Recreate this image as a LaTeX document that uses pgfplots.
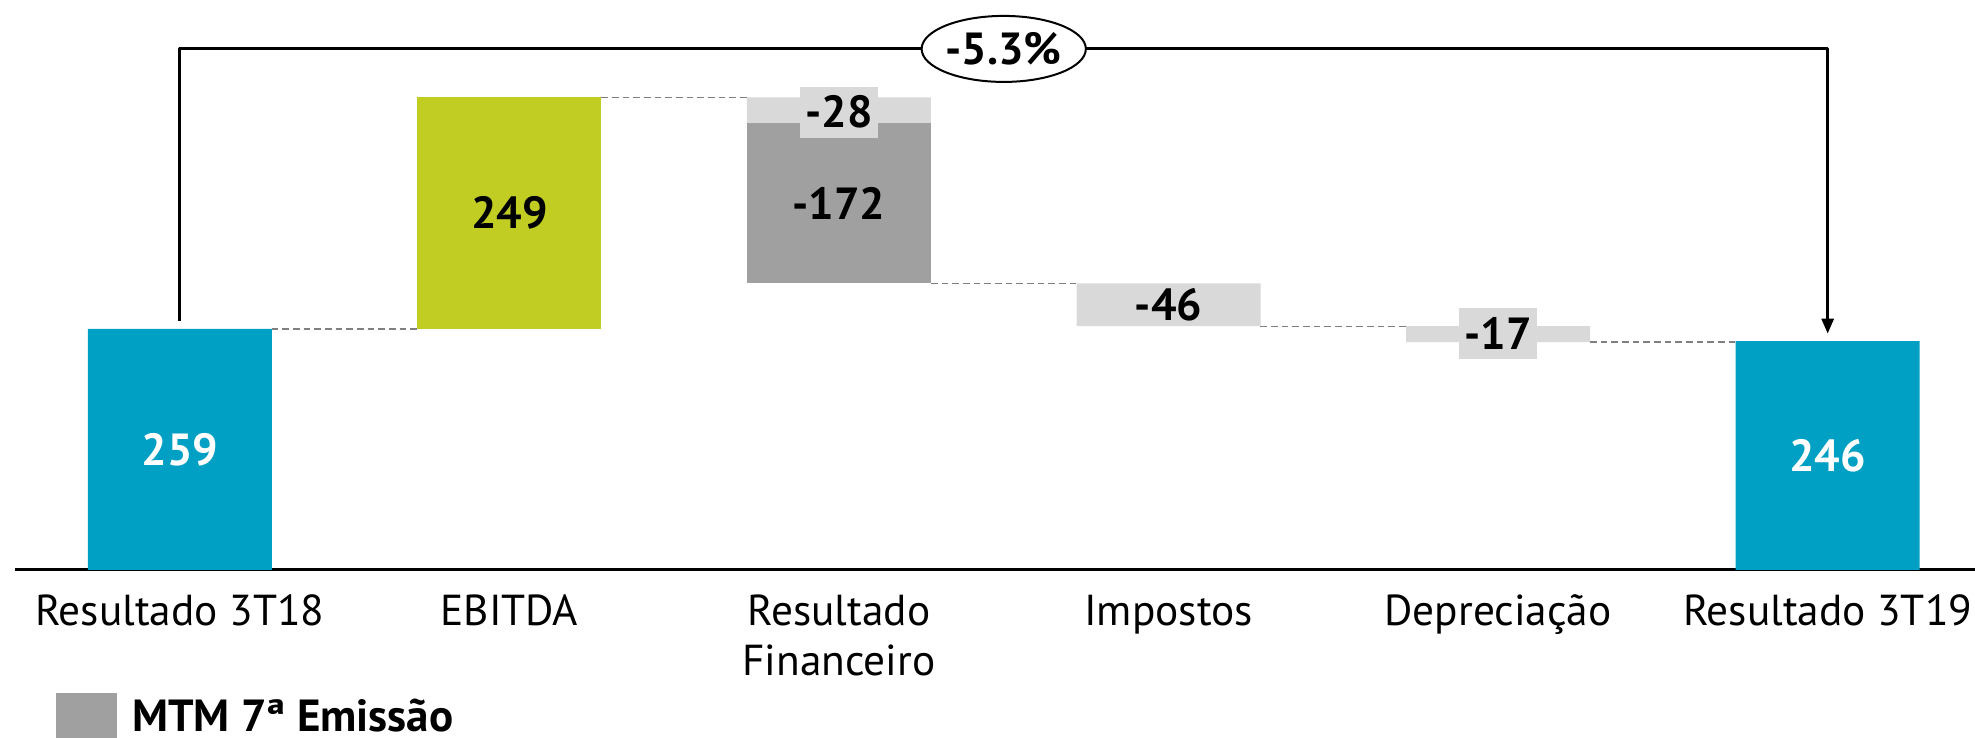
\documentclass[border=0pt]{standalone}
\usepackage{fontspec}
\setmainfont{PT Sans}
\usepackage{pgfplots}
\pgfplotsset{compat=1.18}
\usetikzlibrary{arrows.meta,shapes.geometric}
\definecolor{teal1}{HTML}{00A0C4}
\definecolor{lime1}{HTML}{C2CD23}
\definecolor{dgray}{HTML}{A0A0A0}
\definecolor{lgray}{HTML}{D9D9D9}
\definecolor{conncol}{HTML}{808080}
\newcommand\lbl{\fontsize{13.5}{15}\selectfont}
\newcommand\tlbl{\fontsize{13}{15}\selectfont}
\pgfplotsset{
  wfaxis/.style={
    scale only axis, width=588pt, height=171pt,
    at={(4.5pt,50.4pt)}, anchor=south west,
    xmin=-0.5, xmax=5.447, ymin=0, ymax=612.6,
  },
  connline/.style={draw=conncol, line width=0.4pt, dash pattern=on 2pt off 1.2pt, forget plot},
}
\begin{document}
\begin{tikzpicture}
\useasboundingbox (0,0) rectangle (592.5pt,221.4pt);
\begin{axis}[wfaxis,
  ybar stacked, bar width=55.2pt,
  axis x line=bottom, axis y line=none,
  axis line style={-, line width=0.9pt, black},
  xtick={0,1,2,3,4,5},
  xticklabels={Resultado 3T18,EBITDA,Resultado\\Financeiro,Impostos,Depreciação,Resultado 3T19},
  major tick length=0pt,
  typeset ticklabels with strut,
  xticklabel style={anchor=north, inner sep=0pt, yshift=-6pt, align=center, font=\tlbl},
  legend style={at={(0,0)}, anchor=north west, xshift=12pt, yshift=-36.6pt, inner sep=0pt, draw=none, fill=none, font=\lbl\bfseries, column sep=2.7pt},
  legend image code/.code={\fill[#1] (0pt,-10.8pt) rectangle (18.3pt,7.5pt);},
]
\addplot[draw=none, fill=none, forget plot] coordinates {(0,0) (1,259) (2,308) (3,262) (4,245) (5,0)};
\addplot[draw=none, fill=teal1, forget plot] coordinates {(0,259) (1,0) (2,0) (3,0) (4,0) (5,246)};
\addplot[draw=none, fill=lime1, forget plot] coordinates {(0,0) (1,249) (2,0) (3,0) (4,0) (5,0)};
\addplot[draw=none, fill=dgray] coordinates {(0,0) (1,0) (2,172) (3,0) (4,0) (5,0)};
\addlegendentry{MTM 7ª Emissão}
\addplot[draw=none, fill=lgray, forget plot] coordinates {(0,0) (1,0) (2,28) (3,46) (4,17) (5,0)};
\end{axis}
\begin{axis}[wfaxis, hide axis, clip=false]
\addplot[connline] coordinates {(0.279,259) (0.721,259)};
\addplot[connline] coordinates {(1.279,508) (1.721,508)};
\addplot[connline] coordinates {(2.279,308) (2.721,308)};
\addplot[connline] coordinates {(3.279,262) (3.721,262)};
\addplot[connline] coordinates {(4.279,245) (4.721,245)};
\addplot[black, line width=0.9pt, line join=round, -{Triangle[length=4.5pt,width=3.6pt]}] coordinates {(0,268) (0,560) (5,560) (5,254)};
\node[ellipse, draw, fill=white, line width=0.6pt, minimum width=47.4pt, minimum height=19.8pt, inner sep=0pt, font=\lbl\bfseries] at (axis cs:2.5,560) {-5.3\%};
\node[font=\lbl\bfseries, white] at (axis cs:0,129.5) {259};
\node[font=\lbl\bfseries] at (axis cs:1,383.5) {249};
\node[font=\lbl\bfseries] at (axis cs:2,394) {-172};
\node[font=\lbl\bfseries, fill=lgray, minimum width=23.4pt, minimum height=15.3pt, inner sep=0pt] at (axis cs:2,492) {-28};
\node[font=\lbl\bfseries] at (axis cs:3,285) {-46};
\node[font=\lbl\bfseries, fill=lgray, minimum width=23.4pt, minimum height=15.3pt, inner sep=0pt] at (axis cs:4,254) {-17};
\node[font=\lbl\bfseries, white] at (axis cs:5,123) {246};
\end{axis}
\end{tikzpicture}
\end{document}
